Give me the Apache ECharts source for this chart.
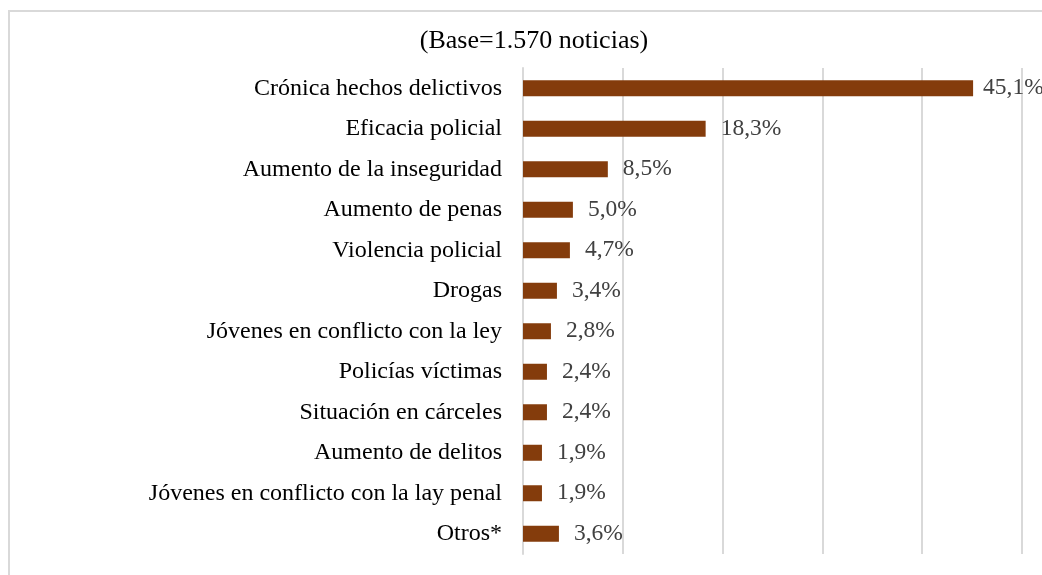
<!DOCTYPE html>
<html><head><meta charset="utf-8">
<script src="https://cdn.jsdelivr.net/npm/echarts@6/dist/echarts.min.js"></script>
<style>html,body{margin:0;padding:0;background:#fff}#c{width:1042px;height:575px}
#frame{position:absolute;left:8px;top:10px;width:1040px;height:570px;border-left:2px solid #d9d9d9;border-top:2px solid #d9d9d9;box-sizing:border-box;pointer-events:none}</style>
</head><body><div id="c"></div><div id="frame"></div>
<script>
const titleText = '(Base=1.570 noticias)';
const categories = ['Crónica hechos delictivos','Eficacia policial','Aumento de la inseguridad','Aumento de penas','Violencia policial','Drogas','Jóvenes en conflicto con la ley','Policías víctimas','Situación en cárceles','Aumento de delitos','Jóvenes en conflicto con la lay penal','Otros*'];
const values = [45.1,18.3,8.5,5.0,4.7,3.4,2.8,2.4,2.4,1.9,1.9,3.6];
const chart = echarts.init(document.getElementById('c'));
const font = '"Liberation Serif","Times New Roman",serif';
const seriesData = values.map((v,i)=> i===0 ? {value:v,label:{distance:10}} : v);
chart.setOption({
  animation:false,
  title:{text:titleText,left:529,textAlign:'center',top:23,textStyle:{fontFamily:font,fontSize:26,fontWeight:'normal',color:'#000'}},
  grid:{left:523,right:20,top:68,bottom:21,containLabel:false},
  xAxis:{type:'value',min:0,max:50,interval:10,axisLabel:{show:false},axisLine:{show:false},axisTick:{show:false},
    splitLine:{show:true,lineStyle:{color:'#d9d9d9',width:2}}},
  yAxis:{type:'category',inverse:true,data:categories,
    axisLine:{show:true,lineStyle:{color:'#d9d9d9',width:2}},axisTick:{show:false},
    axisLabel:{fontFamily:font,fontSize:24,color:'#000',margin:21}},
  series:[{type:'bar',data:seriesData,barWidth:16,itemStyle:{color:'#843C0C'},
    label:{show:true,position:'right',distance:15,fontFamily:font,fontSize:23.5,color:'#404040',
      formatter:p=>p.value.toFixed(1).replace('.',',')+'%'}}]
});
</script></body></html>
